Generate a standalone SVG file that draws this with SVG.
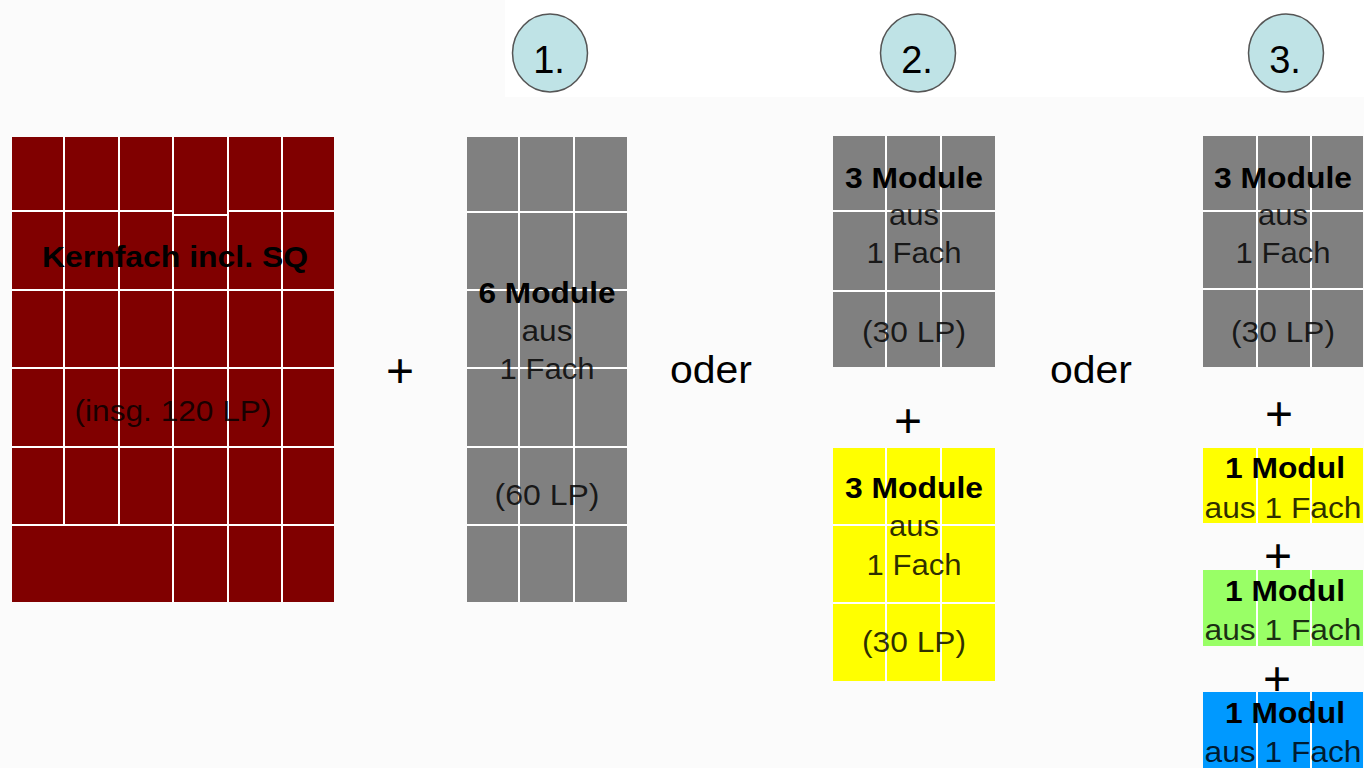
<svg xmlns="http://www.w3.org/2000/svg" width="1364" height="768" viewBox="0 0 1364 768">
<style>
text{font-family:"Liberation Sans",Arial,sans-serif;text-anchor:middle}
.b{font-weight:bold;font-size:30px;fill:#000}
.n{font-size:30px;fill:#000;fill-opacity:0.82}
.op{font-size:48px;fill:#000}
.oder{font-size:39px;fill:#000}
.num{font-size:38px;fill:#000}
.grid{stroke:#fff;stroke-width:2;fill:none}
.circ{fill:#bfe3e6;stroke:#555;stroke-width:1.5}
</style>
<rect width="1364" height="768" fill="#fbfbfb"/>
<rect x="505" y="0" width="859" height="97" fill="#fff"/>

<g id="step1"><ellipse class="circ" cx="550" cy="53" rx="37.5" ry="39"/><text class="num" x="549" y="73">1.</text></g>
<g id="step2"><ellipse class="circ" cx="918" cy="53" rx="37.5" ry="39"/><text class="num" x="917" y="73">2.</text></g>
<g id="step3"><ellipse class="circ" cx="1286" cy="53" rx="37.5" ry="39"/><text class="num" x="1285" y="73">3.</text></g>

<g id="kernfach">
<rect x="12" y="137" width="322" height="465" fill="#800000"/>
<path class="grid" d="M64 137V525M119 137V525M173 137V602M228 137V602M282 137V602M12 211H173M173 215H228M228 211H334M12 290H334M12 368H334M12 447H334M12 525H334"/>
<text class="b" x="175" y="267" textLength="266" lengthAdjust="spacingAndGlyphs">Kernfach incl. SQ</text>
<text class="n" x="173" y="421" textLength="197" lengthAdjust="spacingAndGlyphs">(insg. 120 LP)</text>
</g>

<g id="option1">
<rect x="467" y="137" width="160" height="465" fill="#808080"/>
<path class="grid" d="M519 137V602M574 137V602M467 212H627M467 290H627M467 368H627M467 447H627M467 525H627"/>
<text class="b" x="547" y="303" textLength="137" lengthAdjust="spacingAndGlyphs">6 Module</text>
<text class="n" x="547" y="341" textLength="51" lengthAdjust="spacingAndGlyphs">aus</text>
<text class="n" x="547" y="379" textLength="95" lengthAdjust="spacingAndGlyphs">1 Fach</text>
<text class="n" x="547" y="505" textLength="105" lengthAdjust="spacingAndGlyphs">(60 LP)</text>
</g>

<g id="option2a">
<rect x="833" y="136" width="162" height="231" fill="#808080"/>
<path class="grid" d="M886 136V367M941 136V367M833 211H995M833 291H995"/>
<text class="b" x="914" y="188" textLength="138" lengthAdjust="spacingAndGlyphs">3 Module</text>
<text class="n" x="914" y="225" textLength="50" lengthAdjust="spacingAndGlyphs">aus</text>
<text class="n" x="914" y="263" textLength="95" lengthAdjust="spacingAndGlyphs">1 Fach</text>
<text class="n" x="914" y="342" textLength="104" lengthAdjust="spacingAndGlyphs">(30 LP)</text>
</g>

<g id="option2b">
<rect x="833" y="448" width="162" height="233" fill="#ffff00"/>
<path class="grid" d="M886 448V681M941 448V681M833 525H995M833 603H995"/>
<text class="b" x="914" y="498" textLength="138" lengthAdjust="spacingAndGlyphs">3 Module</text>
<text class="n" x="914" y="536" textLength="50" lengthAdjust="spacingAndGlyphs">aus</text>
<text class="n" x="914" y="575" textLength="95" lengthAdjust="spacingAndGlyphs">1 Fach</text>
<text class="n" x="914" y="652" textLength="104" lengthAdjust="spacingAndGlyphs">(30 LP)</text>
</g>

<g id="option3a">
<rect x="1203" y="136" width="160" height="231" fill="#808080"/>
<path class="grid" d="M1257 136V367M1311 136V367M1203 211H1363M1203 289H1363"/>
<text class="b" x="1283" y="188" textLength="138" lengthAdjust="spacingAndGlyphs">3 Module</text>
<text class="n" x="1283" y="225" textLength="50" lengthAdjust="spacingAndGlyphs">aus</text>
<text class="n" x="1283" y="263" textLength="95" lengthAdjust="spacingAndGlyphs">1 Fach</text>
<text class="n" x="1283" y="342" textLength="104" lengthAdjust="spacingAndGlyphs">(30 LP)</text>
</g>

<g id="option3b">
<rect x="1203" y="448" width="160" height="75" fill="#ffff00"/>
<path class="grid" d="M1257 448V523M1311 448V523"/>
<text class="b" x="1285" y="478" textLength="120" lengthAdjust="spacingAndGlyphs">1 Modul</text>
<text class="n" x="1283" y="518" textLength="157" lengthAdjust="spacingAndGlyphs">aus 1 Fach</text>
</g>

<g id="option3c">
<rect x="1203" y="570" width="160" height="76" fill="#99ff66"/>
<path class="grid" d="M1257 570V646M1311 570V646"/>
<text class="b" x="1285" y="601" textLength="120" lengthAdjust="spacingAndGlyphs">1 Modul</text>
<text class="n" x="1283" y="640" textLength="157" lengthAdjust="spacingAndGlyphs">aus 1 Fach</text>
</g>

<g id="option3d">
<rect x="1203" y="692" width="160" height="76" fill="#0099ff"/>
<path class="grid" d="M1257 692V768M1311 692V768"/>
<text class="b" x="1285" y="723" textLength="120" lengthAdjust="spacingAndGlyphs">1 Modul</text>
<text class="n" x="1283" y="762" textLength="157" lengthAdjust="spacingAndGlyphs">aus 1 Fach</text>
</g>

<g id="connectors">
<text class="op" x="400" y="387">+</text>
<text class="oder" x="711" y="383" textLength="82" lengthAdjust="spacingAndGlyphs">oder</text>
<text class="op" x="908" y="437">+</text>
<text class="oder" x="1091" y="383" textLength="82" lengthAdjust="spacingAndGlyphs">oder</text>
<text class="op" x="1279" y="430">+</text>
<text class="op" x="1278" y="572">+</text>
<text class="op" x="1277" y="695">+</text>
</g>
</svg>
